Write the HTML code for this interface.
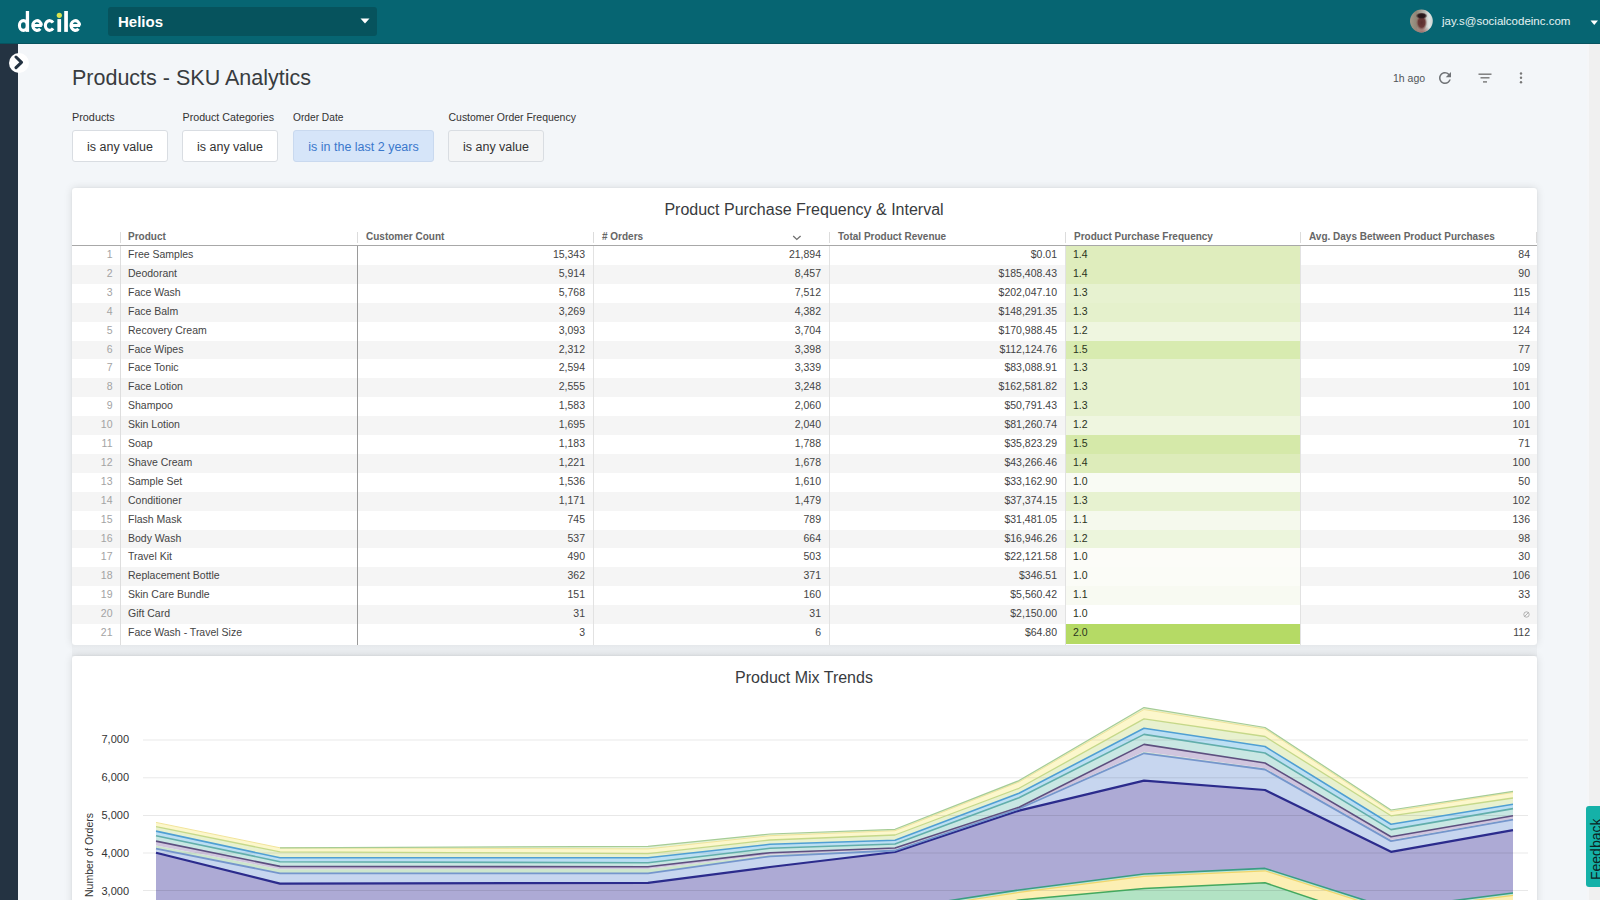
<!DOCTYPE html>
<html><head><meta charset="utf-8"><title>Products - SKU Analytics</title>
<style>
*{box-sizing:border-box;margin:0;padding:0}
html,body{width:1600px;height:900px;overflow:hidden}
body{position:relative;background:#f3f6f9;font-family:"Liberation Sans",sans-serif;color:#333}
.a{position:absolute}
#hdr{left:0;top:0;width:1600px;height:44px;background:#066572;border-bottom:1px solid #07535f}
#dd{left:108px;top:7px;width:269px;height:29px;background:#06535d;border-radius:3px}
#dd span{position:absolute;left:10px;top:6px;font-size:15px;font-weight:bold;color:#fff;line-height:17px}
#side{left:0;top:44px;width:18px;height:856px;background:#243342}
#tog{left:8.5px;top:53px;width:20px;height:20px;border-radius:50%;background:#fff}
#sb{left:1587px;top:44px;width:13px;height:856px;background:#f0f0f0;border-left:2.5px solid #f5f6f8}
#title{left:72px;top:65px;font-size:21.5px;color:#383c40;line-height:26px;white-space:nowrap}
.lbl{top:111px;font-size:10.8px;color:#333;line-height:13px;white-space:nowrap}
.btn{top:130px;height:32px;border:1px solid #d9dde2;border-radius:3px;background:#fff;font-size:12.5px;color:#333;line-height:32px;text-align:center;white-space:nowrap}
.card{background:#fff;border-radius:3px;box-shadow:0 0 8px rgba(0,0,0,0.12),0 0 2px rgba(0,0,0,0.06)}
.ctitle{font-size:16px;color:#383b3e;line-height:19px;white-space:nowrap;text-align:center}
.hd{top:230px;font-size:10px;font-weight:bold;color:#666;line-height:14px;white-space:nowrap}
.vs{top:232px;width:1px;height:11px;background:#dcdcdc}
.r{position:absolute;left:72px;width:1465px;height:18.9px}
.r.st{background:#f5f5f5}
.c{position:absolute;top:0;height:18.9px;font-size:10.5px;line-height:16.3px;color:#444;white-space:nowrap;overflow:hidden}
.n{left:0;width:48px;text-align:right;padding-right:7.5px;color:#a3a3a3}
.p{left:49px;width:236px;padding-left:7px}
.cc{left:286px;width:235px;text-align:right;padding-right:8px}
.o{left:522px;width:235px;text-align:right;padding-right:8px}
.rv{left:758px;width:235px;text-align:right;padding-right:8px}
.f{left:994px;width:234px;height:19.6px;padding-left:7px;color:#2a3320}
.d{left:1229px;width:236px;text-align:right;padding-right:7px}
.nul{color:#bbb}
.ax{font-size:11px;color:#333;line-height:13px;text-align:right;width:40px;left:89px}
#fb{left:1586px;top:806px;width:14px;height:81px;background:#15b1a8;border-radius:3px 0 0 3px;overflow:hidden}
#fb span{position:absolute;left:3px;top:73.5px;transform-origin:0 0;transform:rotate(-90deg);font-size:14px;color:#0c2424;line-height:14px;white-space:nowrap}
</style></head>
<body>
<div class="a" id="hdr"></div>
<svg class="a" id="logo" style="left:0;top:0" width="90" height="44" viewBox="0 0 90 44"><g fill="none" stroke="#fff" stroke-width="3.1"><ellipse cx="23.4" cy="25.5" rx="3.95" ry="4.85"/><path d="M32.45 25.50 H41.85 M41.35 25.50 A4.3 4.85 0 1 0 40.25 28.75" /><path d="M53.04 22.65 A4.25 4.85 0 1 0 53.04 28.35" /><path d="M70.70 25.50 H80.10 M79.60 25.50 A4.3 4.85 0 1 0 78.50 28.75" /></g><g fill="#fff"><rect x="25.8" y="11" width="3.3" height="20.9"/><rect x="57.4" y="19.1" width="3.7" height="12.8"/><rect x="64.2" y="11" width="3.7" height="20.9"/></g><circle cx="59.3" cy="15.3" r="2.6" fill="#d9e24e"/></svg>
<div class="a" id="dd"><span>Helios</span>
<svg class="a" style="left:252px;top:11px" width="10" height="6" viewBox="0 0 10 6"><path d="M0.5 0.5 L9.5 0.5 L5 5.5 Z" fill="#fff"/></svg>
</div>
<svg class="a" style="left:1409px;top:9px" width="25" height="25" viewBox="0 0 25 25"><defs><clipPath id="av"><circle cx="12.4" cy="12" r="11.4"/></clipPath><linearGradient id="avbg" x1="0" x2="1" y1="0" y2="0"><stop offset="0" stop-color="#a49d8e"/><stop offset="0.3" stop-color="#8f8576"/><stop offset="0.62" stop-color="#b8b6ae"/><stop offset="0.8" stop-color="#dfe5e3"/><stop offset="1" stop-color="#c5cecc"/></linearGradient><radialGradient id="avf" cx="0.5" cy="0.5" r="0.5"><stop offset="0" stop-color="#5a2f2e"/><stop offset="0.6" stop-color="#6a3a38"/><stop offset="1" stop-color="#8a5a55" stop-opacity="0"/></radialGradient><radialGradient id="avh" cx="0.5" cy="0.5" r="0.5"><stop offset="0" stop-color="#231417"/><stop offset="0.6" stop-color="#2f1d1f"/><stop offset="1" stop-color="#4a3432" stop-opacity="0"/></radialGradient><radialGradient id="avs" cx="0.5" cy="0.5" r="0.5"><stop offset="0" stop-color="#a06e6a"/><stop offset="1" stop-color="#b08a84" stop-opacity="0"/></radialGradient></defs><g clip-path="url(#av)"><rect width="25" height="25" fill="url(#avbg)"/><ellipse cx="12.8" cy="23" rx="11" ry="6" fill="url(#avs)"/><ellipse cx="12.6" cy="13.5" rx="5.6" ry="8" fill="url(#avf)"/><ellipse cx="12.6" cy="6.8" rx="6" ry="3.4" fill="url(#avh)"/></g></svg>
<div class="a" style="left:1442px;top:13px;font-size:11.5px;color:#e6f3f4;line-height:16px;white-space:nowrap">jay.s@socialcodeinc.com</div>
<svg class="a" style="left:1590px;top:20px" width="9" height="6" viewBox="0 0 9 6"><path d="M0.5 0.5 L8 0.5 L4.25 5 Z" fill="#fff"/></svg>

<div class="a" id="side"></div>
<div class="a" id="tog"></div>
<svg class="a" style="left:13px;top:55px" width="12" height="15" viewBox="0 0 12 15"><path d="M3 2 L8.5 7.3 L3 12.6" fill="none" stroke="#243342" stroke-width="3" stroke-linecap="round" stroke-linejoin="round"/></svg>
<div class="a" id="sb"></div>

<div class="a" id="title">Products - SKU Analytics</div>
<div class="a" style="left:1393px;top:72px;font-size:10.5px;color:#505458;line-height:13px;white-space:nowrap">1h ago</div>
<svg class="a" style="left:1436px;top:69px" width="18" height="18" viewBox="0 0 24 24"><path d="M17.65 6.35A7.958 7.958 0 0 0 12 4c-4.42 0-7.99 3.58-7.99 8s3.57 8 7.99 8c3.73 0 6.84-2.55 7.73-6h-2.08A5.99 5.99 0 0 1 12 18c-3.31 0-6-2.69-6-6s2.69-6 6-6c1.66 0 3.14.69 4.22 1.78L13 11h7V4l-2.35 2.35z" fill="#707377"/></svg>
<svg class="a" style="left:1478px;top:72px" width="14" height="11" viewBox="0 0 14 11"><rect x="0.5" y="1.5" width="13" height="1.4" fill="#777"/><rect x="2.5" y="5.1" width="9" height="1.4" fill="#777"/><rect x="5" y="9.2" width="4" height="1.4" fill="#777"/></svg>
<svg class="a" style="left:1518px;top:71px" width="6" height="14" viewBox="0 0 6 14"><circle cx="3" cy="2.5" r="1.2" fill="#777"/><circle cx="3" cy="6.8" r="1.2" fill="#777"/><circle cx="3" cy="11.3" r="1.2" fill="#777"/></svg>

<div class="a lbl" style="left:72px;font-size:10.85px">Products</div>
<div class="a lbl" style="left:182.5px;font-size:10.7px">Product Categories</div>
<div class="a lbl" style="left:293px;font-size:10.2px">Order Date</div>
<div class="a lbl" style="left:448.5px;font-size:10.48px">Customer Order Frequency</div>
<div class="a btn" style="left:72px;width:96px">is any value</div>
<div class="a btn" style="left:182px;width:96px">is any value</div>
<div class="a btn" style="left:293px;width:141px;background:#d6e5f9;border-color:#c9d9ef;color:#3a78cc">is in the last 2 years</div>
<div class="a btn" style="left:448px;width:96px;background:#f4f5f6">is any value</div>

<!-- table card -->
<div class="a card" style="left:72px;top:188px;width:1465px;height:456.5px;overflow:hidden"></div>
<div class="a ctitle" style="left:72px;top:200px;width:1464px">Product Purchase Frequency &amp; Interval</div>
<div class="a hd" style="left:128px">Product</div>
<div class="a hd" style="left:366px">Customer Count</div>
<div class="a hd" style="left:602px"># Orders</div>
<div class="a hd" style="left:838px">Total Product Revenue</div>
<div class="a hd" style="left:1074px">Product Purchase Frequency</div>
<div class="a hd" style="left:1309px">Avg. Days Between Product Purchases</div>
<svg class="a" style="left:792px;top:234px" width="10" height="7" viewBox="0 0 10 7"><path d="M1.2 2.1 L4.8 5.4 L8.6 1.9" fill="none" stroke="#6f6f6f" stroke-width="1.3"/></svg>
<div class="a vs" style="left:120px"></div>
<div class="a vs" style="left:357px"></div>
<div class="a vs" style="left:593px"></div>
<div class="a vs" style="left:829px"></div>
<div class="a vs" style="left:1065px"></div>
<div class="a vs" style="left:1300px"></div>
<div class="a" style="left:72px;top:245px;width:1465px;height:1px;background:#a8a8a8"></div>
<div class="a vs" style="left:1536px"></div>
<div class="r" style="top:246.00px"><div class="c n">1</div><div class="c p">Free Samples</div><div class="c cc">15,343</div><div class="c o">21,894</div><div class="c rv">$0.01</div><div class="c f" style="background:#dfedbd">1.4</div><div class="c d">84</div></div>
<div class="r st" style="top:264.90px"><div class="c n">2</div><div class="c p">Deodorant</div><div class="c cc">5,914</div><div class="c o">8,457</div><div class="c rv">$185,408.43</div><div class="c f" style="background:#dfedbd">1.4</div><div class="c d">90</div></div>
<div class="r" style="top:283.80px"><div class="c n">3</div><div class="c p">Face Wash</div><div class="c cc">5,768</div><div class="c o">7,512</div><div class="c rv">$202,047.10</div><div class="c f" style="background:#e7f2d0">1.3</div><div class="c d">115</div></div>
<div class="r st" style="top:302.70px"><div class="c n">4</div><div class="c p">Face Balm</div><div class="c cc">3,269</div><div class="c o">4,382</div><div class="c rv">$148,291.35</div><div class="c f" style="background:#e5f1cc">1.3</div><div class="c d">114</div></div>
<div class="r" style="top:321.60px"><div class="c n">5</div><div class="c p">Recovery Cream</div><div class="c cc">3,093</div><div class="c o">3,704</div><div class="c rv">$170,988.45</div><div class="c f" style="background:#eff6e0">1.2</div><div class="c d">124</div></div>
<div class="r st" style="top:340.50px"><div class="c n">6</div><div class="c p">Face Wipes</div><div class="c cc">2,312</div><div class="c o">3,398</div><div class="c rv">$112,124.76</div><div class="c f" style="background:#d8ebb0">1.5</div><div class="c d">77</div></div>
<div class="r" style="top:359.40px"><div class="c n">7</div><div class="c p">Face Tonic</div><div class="c cc">2,594</div><div class="c o">3,339</div><div class="c rv">$83,088.91</div><div class="c f" style="background:#e7f2d0">1.3</div><div class="c d">109</div></div>
<div class="r st" style="top:378.30px"><div class="c n">8</div><div class="c p">Face Lotion</div><div class="c cc">2,555</div><div class="c o">3,248</div><div class="c rv">$162,581.82</div><div class="c f" style="background:#e7f2d0">1.3</div><div class="c d">101</div></div>
<div class="r" style="top:397.20px"><div class="c n">9</div><div class="c p">Shampoo</div><div class="c cc">1,583</div><div class="c o">2,060</div><div class="c rv">$50,791.43</div><div class="c f" style="background:#e7f2d0">1.3</div><div class="c d">100</div></div>
<div class="r st" style="top:416.10px"><div class="c n">10</div><div class="c p">Skin Lotion</div><div class="c cc">1,695</div><div class="c o">2,040</div><div class="c rv">$81,260.74</div><div class="c f" style="background:#eff6e0">1.2</div><div class="c d">101</div></div>
<div class="r" style="top:435.00px"><div class="c n">11</div><div class="c p">Soap</div><div class="c cc">1,183</div><div class="c o">1,788</div><div class="c rv">$35,823.29</div><div class="c f" style="background:#d5e9a9">1.5</div><div class="c d">71</div></div>
<div class="r st" style="top:453.90px"><div class="c n">12</div><div class="c p">Shave Cream</div><div class="c cc">1,221</div><div class="c o">1,678</div><div class="c rv">$43,266.46</div><div class="c f" style="background:#ddecba">1.4</div><div class="c d">100</div></div>
<div class="r" style="top:472.80px"><div class="c n">13</div><div class="c p">Sample Set</div><div class="c cc">1,536</div><div class="c o">1,610</div><div class="c rv">$33,162.90</div><div class="c f" style="background:#f9fbf4">1.0</div><div class="c d">50</div></div>
<div class="r st" style="top:491.70px"><div class="c n">14</div><div class="c p">Conditioner</div><div class="c cc">1,171</div><div class="c o">1,479</div><div class="c rv">$37,374.15</div><div class="c f" style="background:#e7f2d0">1.3</div><div class="c d">102</div></div>
<div class="r" style="top:510.60px"><div class="c n">15</div><div class="c p">Flash Mask</div><div class="c cc">745</div><div class="c o">789</div><div class="c rv">$31,481.05</div><div class="c f" style="background:#f5f9ed">1.1</div><div class="c d">136</div></div>
<div class="r st" style="top:529.50px"><div class="c n">16</div><div class="c p">Body Wash</div><div class="c cc">537</div><div class="c o">664</div><div class="c rv">$16,946.26</div><div class="c f" style="background:#ecf5dc">1.2</div><div class="c d">98</div></div>
<div class="r" style="top:548.40px"><div class="c n">17</div><div class="c p">Travel Kit</div><div class="c cc">490</div><div class="c o">503</div><div class="c rv">$22,121.58</div><div class="c f" style="background:#fcfcf8">1.0</div><div class="c d">30</div></div>
<div class="r st" style="top:567.30px"><div class="c n">18</div><div class="c p">Replacement Bottle</div><div class="c cc">362</div><div class="c o">371</div><div class="c rv">$346.51</div><div class="c f" style="background:#fbfcf7">1.0</div><div class="c d">106</div></div>
<div class="r" style="top:586.20px"><div class="c n">19</div><div class="c p">Skin Care Bundle</div><div class="c cc">151</div><div class="c o">160</div><div class="c rv">$5,560.42</div><div class="c f" style="background:#f8faf2">1.1</div><div class="c d">33</div></div>
<div class="r st" style="top:605.10px"><div class="c n">20</div><div class="c p">Gift Card</div><div class="c cc">31</div><div class="c o">31</div><div class="c rv">$2,150.00</div><div class="c f" style="background:#ffffff">1.0</div><div class="c d nul"><svg width="7" height="7" viewBox="0 0 7 7" style="vertical-align:-0.5px"><circle cx="3.5" cy="3.5" r="2.7" fill="none" stroke="#aaa" stroke-width="0.9"/><path d="M1.2 5.8 L5.8 1.2" stroke="#aaa" stroke-width="0.9"/></svg></div></div>
<div class="r" style="top:624.00px"><div class="c n">21</div><div class="c p">Face Wash - Travel Size</div><div class="c cc">3</div><div class="c o">6</div><div class="c rv">$64.80</div><div class="c f" style="background:#b5da65">2.0</div><div class="c d">112</div></div>
<div class="a" style="left:120px;top:246px;width:1px;height:398.5px;background:#dedede"></div>
<div class="a" style="left:357px;top:246px;width:1px;height:398.5px;background:#9a9a9a"></div>
<div class="a" style="left:593px;top:246px;width:1px;height:398.5px;background:#e2e2e2"></div>
<div class="a" style="left:829px;top:246px;width:1px;height:398.5px;background:#e2e2e2"></div>
<div class="a" style="left:1065px;top:246px;width:1px;height:398.5px;background:#e2e2e2"></div>
<div class="a" style="left:1300px;top:246px;width:1px;height:398.5px;background:#e2e2e2"></div>

<!-- chart card -->
<div class="a" style="left:72px;top:644.5px;width:1465px;height:11.5px;background:linear-gradient(#e5e8eb,#ebeef1 35%,#ebeef1 75%,#e7eaed)"></div>
<div class="a card" style="left:72px;top:656px;width:1465px;height:260px"></div>
<div class="a ctitle" style="left:72px;top:668px;width:1464px">Product Mix Trends</div>
<div class="a" style="left:0;top:0;width:1600px;height:900px;overflow:hidden;pointer-events:none"><svg width="1600" height="900" viewBox="0 0 1600 900" style="position:absolute;left:0;top:0"><defs><clipPath id="cp"><rect x="0" y="0" width="1600" height="900"/></clipPath></defs><polygon points="156,980.0 280,980.0 648,980.0 770,980.0 895,925.0 1019,900.0 1144,888.5 1265,882.8 1391,925.0 1513,907.0 1513,1000.0 1391,1000.0 1265,1000.0 1144,1000.0 1019,1000.0 895,1000.0 770,1000.0 648,1000.0 280,1000.0 156,1000.0" fill="#b2e3c4"/><polygon points="156,962.4 280,962.4 648,962.4 770,962.4 895,911.4 1019,892.4 1144,876.4 1265,870.8 1391,911.0 1513,895.4 1513,907.0 1391,925.0 1265,882.8 1144,888.5 1019,900.0 895,925.0 770,980.0 648,980.0 280,980.0 156,980.0" fill="#fcefb4"/><polygon points="156,960.0 280,960.0 648,960.0 770,960.0 895,909.0 1019,890.0 1144,874.0 1265,868.4 1391,908.6 1513,893.0 1513,895.4 1391,911.0 1265,870.8 1144,876.4 1019,892.4 895,911.4 770,962.4 648,962.4 280,962.4 156,962.4" fill="#bfe8d8"/><polygon points="156,852.8 280,883.6 648,882.8 770,867.0 895,852.0 1019,810.6 1144,780.6 1265,790.0 1391,851.8 1513,830.1 1513,893.0 1391,908.6 1265,868.4 1144,874.0 1019,890.0 895,909.0 770,960.0 648,960.0 280,960.0 156,960.0" fill="#adaad5"/><polygon points="156,848.6 280,873.3 648,873.3 770,856.3 895,850.5 1019,808.8 1144,753.3 1265,769.5 1391,841.1 1513,819.7 1513,830.1 1391,851.8 1265,790.0 1144,780.6 1019,810.6 895,852.0 770,867.0 648,882.8 280,883.6 156,852.8" fill="#c7d6ef"/><polygon points="156,845.5 280,869.2 648,868.9 770,854.7 895,849.5 1019,808.3 1144,751.8 1265,768.3 1391,840.0 1513,818.7 1513,819.7 1391,841.1 1265,769.5 1144,753.3 1019,808.8 895,850.5 770,856.3 648,873.3 280,873.3 156,848.6" fill="#cde6cd"/><polygon points="156,841.1 280,866.4 648,866.7 770,852.7 895,848.0 1019,807.2 1144,744.4 1265,763.0 1391,836.7 1513,815.7 1513,818.7 1391,840.0 1265,768.3 1144,751.8 1019,808.3 895,849.5 770,854.7 648,868.9 280,869.2 156,845.5" fill="#d0c5de"/><polygon points="156,835.8 280,861.7 648,862.8 770,848.3 895,844.0 1019,797.8 1144,734.4 1265,753.0 1391,829.6 1513,808.6 1513,815.7 1391,836.7 1265,763.0 1144,744.4 1019,807.2 895,848.0 770,852.7 648,866.7 280,866.4 156,841.1" fill="#c9e7e3"/><polygon points="156,831.1 280,857.8 648,857.8 770,844.3 895,840.3 1019,793.3 1144,728.3 1265,746.5 1391,824.2 1513,804.2 1513,808.6 1391,829.6 1265,753.0 1144,734.4 1019,797.8 895,844.0 770,848.3 648,862.8 280,861.7 156,835.8" fill="#bcdff3"/><polygon points="156,826.7 280,851.9 648,853.6 770,840.0 895,835.0 1019,788.3 1144,718.9 1265,736.5 1391,815.8 1513,798.0 1513,804.2 1391,824.2 1265,746.5 1144,728.3 1019,793.3 895,840.3 770,844.3 648,857.8 280,857.8 156,831.1" fill="#e8f1cf"/><polygon points="156,822.4 280,847.8 648,848.9 770,835.7 895,830.7 1019,782.0 1144,709.5 1265,729.0 1391,811.5 1513,792.5 1513,798.0 1391,815.8 1265,736.5 1144,718.9 1019,788.3 895,835.0 770,840.0 648,853.6 280,851.9 156,826.7" fill="#fcf7cc"/><polygon points="156,822.4 280,847.8 648,846.3 770,834.0 895,829.3 1019,780.6 1144,707.6 1265,727.5 1391,810.0 1513,791.3 1513,792.5 1391,811.5 1265,729.0 1144,709.5 1019,782.0 895,830.7 770,835.7 648,848.9 280,847.8 156,822.4" fill="#e3f2d8"/><line x1="143" y1="740" x2="1528" y2="740" stroke="rgba(0,0,0,0.09)" stroke-width="1"/><line x1="143" y1="777.8" x2="1528" y2="777.8" stroke="rgba(0,0,0,0.09)" stroke-width="1"/><line x1="143" y1="815.5" x2="1528" y2="815.5" stroke="rgba(0,0,0,0.09)" stroke-width="1"/><line x1="143" y1="853" x2="1528" y2="853" stroke="rgba(0,0,0,0.09)" stroke-width="1"/><line x1="143" y1="890.5" x2="1528" y2="890.5" stroke="rgba(0,0,0,0.09)" stroke-width="1"/><polyline points="156,980.0 280,980.0 648,980.0 770,980.0 895,925.0 1019,900.0 1144,888.5 1265,882.8 1391,925.0 1513,907.0" fill="none" stroke="#43a85e" stroke-width="1.5" stroke-linejoin="round"/><polyline points="156,962.4 280,962.4 648,962.4 770,962.4 895,911.4 1019,892.4 1144,876.4 1265,870.8 1391,911.0 1513,895.4" fill="none" stroke="#f2d66a" stroke-width="1.2" stroke-linejoin="round"/><polyline points="156,960.0 280,960.0 648,960.0 770,960.0 895,909.0 1019,890.0 1144,874.0 1265,868.4 1391,908.6 1513,893.0" fill="none" stroke="#3a9d83" stroke-width="1.6" stroke-linejoin="round"/><polyline points="156,852.8 280,883.6 648,882.8 770,867.0 895,852.0 1019,810.6 1144,780.6 1265,790.0 1391,851.8 1513,830.1" fill="none" stroke="#2b2b8c" stroke-width="2.2" stroke-linejoin="round"/><polyline points="156,848.6 280,873.3 648,873.3 770,856.3 895,850.5 1019,808.8 1144,753.3 1265,769.5 1391,841.1 1513,819.7" fill="none" stroke="#7596cc" stroke-width="1.8" stroke-linejoin="round"/><polyline points="156,845.5 280,869.2 648,868.9 770,854.7 895,849.5 1019,808.3 1144,751.8 1265,768.3 1391,840.0 1513,818.7" fill="none" stroke="none" stroke-width="0" stroke-linejoin="round"/><polyline points="156,841.1 280,866.4 648,866.7 770,852.7 895,848.0 1019,807.2 1144,744.4 1265,763.0 1391,836.7 1513,815.7" fill="none" stroke="#5d4f7f" stroke-width="1.6" stroke-linejoin="round"/><polyline points="156,835.8 280,861.7 648,862.8 770,848.3 895,844.0 1019,797.8 1144,734.4 1265,753.0 1391,829.6 1513,808.6" fill="none" stroke="#62aeab" stroke-width="1.6" stroke-linejoin="round"/><polyline points="156,831.1 280,857.8 648,857.8 770,844.3 895,840.3 1019,793.3 1144,728.3 1265,746.5 1391,824.2 1513,804.2" fill="none" stroke="#4f9fd3" stroke-width="1.6" stroke-linejoin="round"/><polyline points="156,826.7 280,851.9 648,853.6 770,840.0 895,835.0 1019,788.3 1144,718.9 1265,736.5 1391,815.8 1513,798.0" fill="none" stroke="#c5d889" stroke-width="1.3" stroke-linejoin="round"/><polyline points="156,822.4 280,847.8 648,848.9 770,835.7 895,830.7 1019,782.0 1144,709.5 1265,729.0 1391,811.5 1513,792.5" fill="none" stroke="#f1e49a" stroke-width="1.0" stroke-linejoin="round"/><polyline points="280,847.8 648,846.3 770,834.0 895,829.3 1019,780.6 1144,707.6 1265,727.5 1391,810.0 1513,791.3" fill="none" stroke="#a6cc95" stroke-width="1.2" stroke-linejoin="round"/></svg></div>
<div class="a ax" style="top:733px">7,000</div>
<div class="a ax" style="top:771px">6,000</div>
<div class="a ax" style="top:809px">5,000</div>
<div class="a ax" style="top:847px">4,000</div>
<div class="a ax" style="top:884.5px">3,000</div>
<div class="a" style="left:82.8px;top:896.5px;transform-origin:0 0;transform:rotate(-90deg);font-size:10.5px;color:#333;line-height:13px;white-space:nowrap">Number of Orders</div>

<div class="a" id="fb"><span>Feedback</span></div>
</body></html>
